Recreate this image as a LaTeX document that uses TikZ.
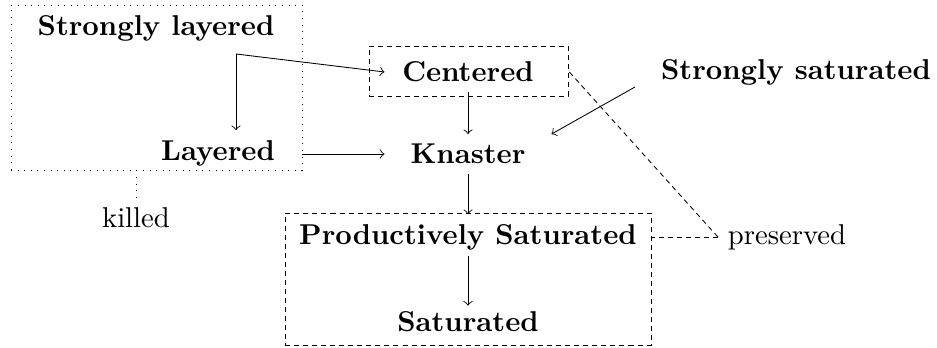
\documentclass[tikz,border=0pt]{standalone}
\usetikzlibrary{fit}
\begin{document}
\begin{tikzpicture}[x=0.3485pt,y=-0.3485pt, line width=0.3pt,
  prop/.style={font=\bfseries, inner sep=3.33pt},
  wide/.style={prop, minimum width=57.9pt},
  note/.style={inner sep=3.33pt},
  dbox/.style={draw, dash pattern=on 1.75pt off 1.4pt, inner sep=0pt},
  obox/.style={draw, dotted, inner sep=0pt},
  dline/.style={dash pattern=on 1.75pt off 1.4pt},
  arr/.style={->}]
\useasboundingbox (0,0) rectangle (937,348);
% nodes
\node[prop] (SL) at (156,28) {Strongly layered};
\node[prop] (L) at (218,153) {Layered};
\node[wide] (C) at (468,72) {Centered};
\node[wide] (K) at (468,154) {Knaster};
\node[prop] (SS) at (796,72) {Strongly saturated};
\node[prop] (PS) at (468,237) {Productively Saturated};
\node[prop, inner ysep=2pt] (S) at (468,322) {Saturated};
\node[note] (kill) at (136,218) {killed};
\node[note] (pres) at (787,237) {preserved};
% boxes
\node[obox, fit={(11,5) (302,170)}] (Obox) {};
\node[dbox, fit={(369,46) (568,96)}] (Cbox) {};
\node[dbox, fit={(285,213) (651,345)}] (PSbox) {};
% helper coordinates
\coordinate (fork) at (236,54);
\coordinate (ssfrom) at (635,87);
% connectors
\draw[arr] (fork) -- (fork |- L.north);
\draw[arr] (fork) -- (C.west);
\draw[arr] (C) -- (K);
\draw[arr] (Obox.east |- K.west) -- (K.west);
\draw[arr] (ssfrom) -- (K.north east);
\draw[arr] (K) -- (PS);
\draw[arr] ([yshift=1.5pt]PS.south) -- (S.north);
\draw[dotted] (kill.north |- Obox.south) -- (kill.north);
\draw[dline] (pres.west) -- (PSbox.east |- pres.west);
\draw[dline] (pres.west) -- (Cbox.east);
\end{tikzpicture}
\end{document}
